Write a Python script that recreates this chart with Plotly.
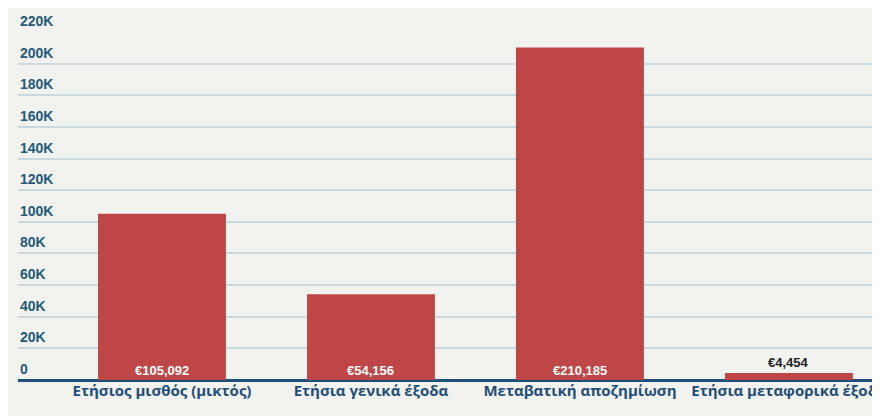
import plotly.graph_objects as go

categories = ["Ετήσιος μισθός (μικτός)", "Ετήσια γενικά έξοδα", "Μεταβατική αποζημίωση", "Ετήσια μεταφορικά έξοδα"]
values = [105092, 54156, 210185, 4454]
labels = ["€105,092", "€54,156", "€210,185", "€4,454"]
tick_vals = [0, 20000, 40000, 60000, 80000, 100000, 120000, 140000, 160000, 180000, 200000, 220000]
tick_text = ["0", "20K", "40K", "60K", "80K", "100K", "120K", "140K", "160K", "180K", "200K", "220K"]

xs = list(range(len(categories)))
fig = go.Figure(go.Bar(x=xs, y=values, width=0.612, marker=dict(color="#bf4646", line=dict(width=0))))

for i, (v, t) in enumerate(zip(values, labels)):
    inside = v > 20000
    fig.add_annotation(x=i, y=0 if inside else v, text="<b>" + t + "</b>", showarrow=False,
                       yanchor="bottom", yshift=0 if inside else 1,
                       font=dict(size=13, color="white" if inside else "#222", family="Liberation Sans"))

for v, t in zip(tick_vals, tick_text):
    fig.add_annotation(xref="paper", x=0, y=v, text="<b>" + t + "</b>", showarrow=False,
                       xanchor="left", yanchor="bottom", yshift=1,
                       font=dict(size=14, color="#1f5a7a", family="Liberation Sans"))

fig.update_layout(
    width=880, height=416, margin=dict(l=10, r=0, t=24, b=44),
    paper_bgcolor="#f2f2ee", plot_bgcolor="#f2f2ee", showlegend=False,
    xaxis=dict(range=[-0.689, 3.474], tickvals=xs, ticktext=["<b>" + c + "</b>" for c in categories],
               showgrid=False, tickfont=dict(size=15, color="#1f4e79", family="Open Sans"), ticks="",
               showline=False, zeroline=False),
    yaxis=dict(range=[0, 220000], tickvals=tick_vals, showticklabels=False,
               gridcolor="#c9d9e0", gridwidth=1.5, zeroline=True, zerolinecolor="#1f4e79",
               zerolinewidth=2.5),
)
fig.write_html("out.html")
